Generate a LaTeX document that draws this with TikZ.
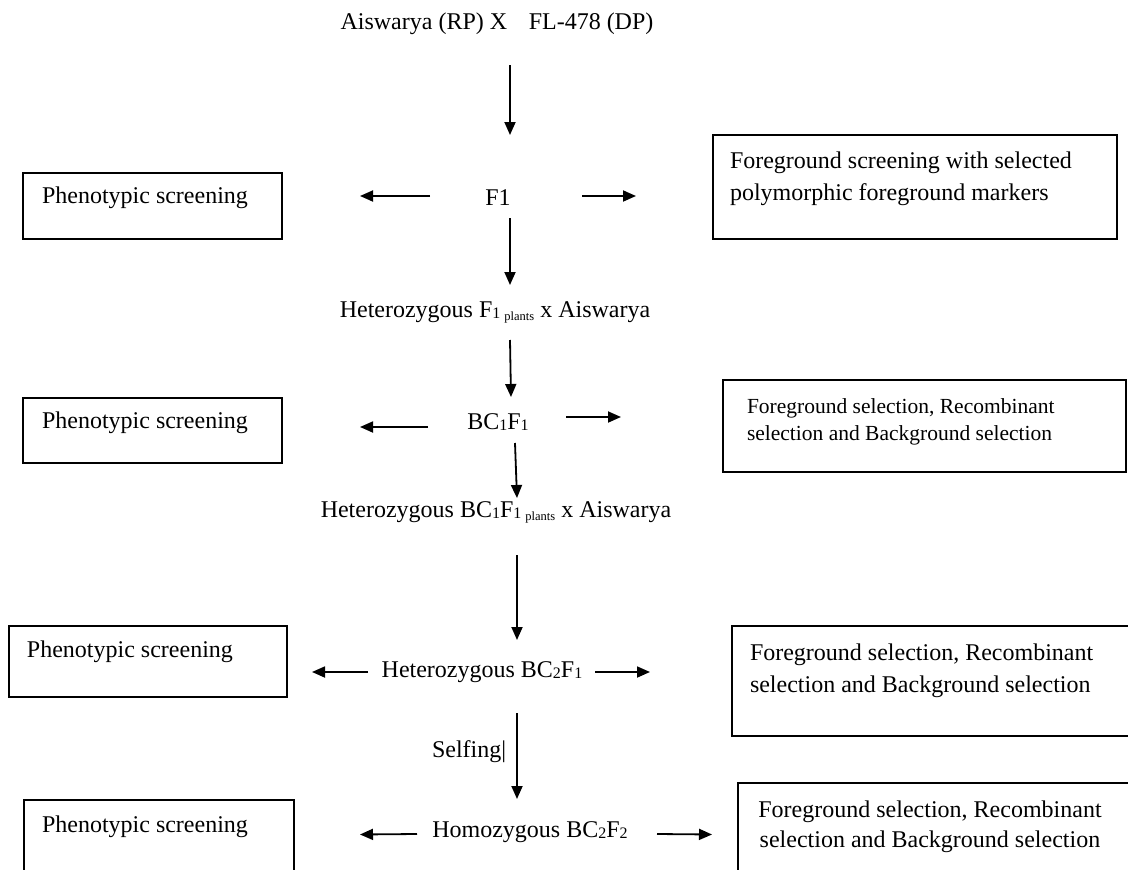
\documentclass[tikz,border=0pt]{standalone}
\usepackage{fontspec}
\setmainfont{Liberation Serif}
\usetikzlibrary{arrows.meta,calc}
\newcommand\lsub[1]{\raisebox{-1.5pt}{\fontsize{16}{16}\selectfont #1}}
\newcommand\tsub[1]{\raisebox{-3.5pt}{\fontsize{12.5}{12.5}\selectfont #1}}
\begin{document}
\begin{tikzpicture}[x=1pt,y=-1pt,
  box/.style={draw=black, line width=2pt, inner sep=0pt, outer sep=0pt, anchor=north west},
  txt/.style={inner sep=0pt, outer sep=0pt, font=\fontsize{24}{32}\selectfont, anchor=base},
  boxtxt/.style={txt, anchor=base west},
  arr/.style={-{Triangle[length=13pt,width=11pt]}, line width=1.8pt}]
\useasboundingbox (0,0) rectangle (1128,870);

% boxes
\node[box, minimum width=259pt, minimum height=66pt] (pl1) at (23,173) {};
\node[box, minimum width=404pt, minimum height=104pt] (fr1) at (713,135) {};
\node[box, minimum width=259pt, minimum height=65pt] (pl2) at (23,398) {};
\node[box, minimum width=403pt, minimum height=92pt] (fr2) at (723,380) {};
\node[box, minimum width=278pt, minimum height=71pt] (pl3) at (9,626) {};
\node[box, minimum width=400pt, minimum height=110pt] (fr3) at (732,626) {};
\node[box, minimum width=270pt, minimum height=75pt] (pl4) at (24,800) {};
\node[box, minimum width=394pt, minimum height=90pt] (fr4) at (738,783) {};

% box texts
\node[boxtxt] (pl1t) at (42,203) {Phenotypic screening};
\node[boxtxt] (fr1t) at (730,168) {\begin{tabular}[t]{@{}l@{}}Foreground screening with selected\\polymorphic foreground markers\end{tabular}};
\node[boxtxt] (pl2t) at (42,428) {Phenotypic screening};
\node[boxtxt, font=\fontsize{21.5}{27}\selectfont] (fr2t) at (747,413) {\begin{tabular}[t]{@{}l@{}}Foreground selection, Recombinant\\selection and Background selection\end{tabular}};
\node[boxtxt] (pl3t) at (27,657) {Phenotypic screening};
\node[boxtxt] (fr3t) at (750,660) {\begin{tabular}[t]{@{}l@{}}Foreground selection, Recombinant\\selection and Background selection\end{tabular}};
\node[boxtxt] (pl4t) at (42,832) {Phenotypic screening};
\node[txt, font=\fontsize{24}{30}\selectfont] (fr4t) at (930,817) {\begin{tabular}[t]{@{}c@{}}Foreground selection, Recombinant\\selection and Background selection\end{tabular}};

% main flow texts
\node[txt] (title) at (497,30) {Aiswarya (RP) X\hspace{0.9em}FL-478 (DP)};
\node[txt] (f1) at (498,205) {F1};
\node[txt] (hf1) at (495,317) {Heterozygous F\lsub{1}\,\tsub{plants} x Aiswarya};
\node[txt] (bc1) at (498,429) {BC\lsub{1}F\lsub{1}};
\node[txt] (hbc1) at (496,517) {Heterozygous BC\lsub{1}F\lsub{1}\,\tsub{plants} x Aiswarya};
\node[txt] (hbc2) at (482,677) {Heterozygous BC\lsub{2}F\lsub{1}};
\node[boxtxt] (self) at (432,757) {Selfing|};
\node[txt] (hom) at (530,837) {Homozygous BC\lsub{2}F\lsub{2}};

% vertical arrows
\draw[arr] ($(title.base)+(13,35)$) -- ($(f1.base)+(12,-70)$);
\draw[arr] ($(f1.base)+(12,13)$) -- ($(hf1.base)+(15,-32)$);
\draw[arr] ($(hf1.base)+(15,23)$) -- ($(bc1.base)+(13,-32)$);
\draw[arr] ($(bc1.base)+(17,14)$) -- ($(hbc1.base)+(21,-19)$);
\draw[arr] ($(hbc1.base)+(21,38)$) -- ($(hbc2.base)+(35,-37)$);
\draw[arr] ($(hbc2.base)+(35,36)$) -- ($(hom.base)+(-13,-38)$);

% side arrows
\draw[arr] ($(f1.base)+(-68,-9)$) -- ($(pl1.east)+(78,-10)$);
\draw[arr] ($(f1.base)+(84,-9)$) -- ($(fr1.west)+(-77,9)$);
\draw[arr] ($(bc1.base)+(-70,-2)$) -- ($(pl2.east)+(78,-3.5)$);
\draw[arr] ($(bc1.base)+(68,-12)$) -- ($(fr2.west)+(-102,-9)$);
\draw[arr] ($(hbc2.base)+(-114,-5)$) -- ($(pl3.east)+(25,10.5)$);
\draw[arr] ($(hbc2.base)+(113,-5)$) -- ($(fr3.west)+(-82,-9)$);
\draw[arr] ($(hom.base)+(-113,-3)$) -- ($(pl4.east)+(66,-3)$);
\draw[arr] ($(hom.base)+(127,-3)$) -- ($(fr4.west)+(-26,6.5)$);
\end{tikzpicture}
\end{document}
